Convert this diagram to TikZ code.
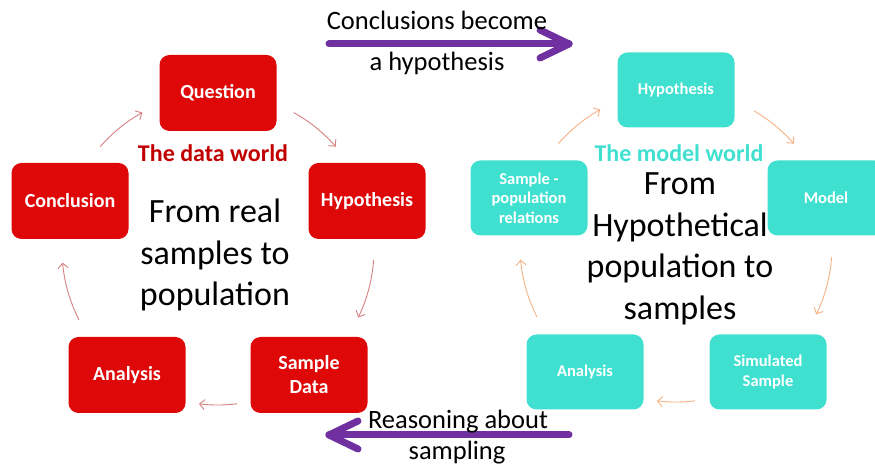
\documentclass[tikz,border=0pt]{standalone}
\usepackage{fontspec}
\setmainfont{Carlito}
\usetikzlibrary{arrows.meta,calc}
\definecolor{boxred}{RGB}{222,8,8}
\definecolor{darkred}{RGB}{192,0,0}
\definecolor{turq}{RGB}{64,224,208}
\definecolor{pinkarrow}{RGB}{214,128,128}
\definecolor{orangearrow}{RGB}{244,177,131}
\definecolor{purplearrow}{RGB}{112,48,160}
\begin{document}
\begin{tikzpicture}[x=1pt,y=1pt,
  redbox/.style={fill=boxred, rounded corners=10pt, minimum width=117pt, minimum height=76pt, text=white, font=\bfseries\fontsize{20}{24}\selectfont, align=center, inner sep=0pt},
  tealbox/.style={fill=turq, rounded corners=10pt, minimum width=117pt, minimum height=75pt, text=white, font=\bfseries\fontsize{16.5}{19.5}\selectfont, align=center, inner sep=0pt},
  worldlabel/.style={font=\bfseries\fontsize{24}{28}\selectfont, inner sep=0pt},
  bigtext/.style={font=\fontsize{34}{41.5}\selectfont, align=center, inner sep=0pt, text=black},
  arrowlabel/.style={font=\fontsize{26.5}{30}\selectfont, inner sep=0pt, text=black},
  cyclearrow/.style={line width=0.9pt, -{Straight Barb[length=5pt,width=10pt]}},
  bigarrow/.style={line width=7pt, draw=purplearrow, line cap=round, line join=round}
]
\useasboundingbox (0,0) rectangle (875,468);
\clip (0,0) rectangle (875,468);

% ---------- left cycle: the data world ----------
\node[redbox] (question) at (218,375) {Question};
\node[redbox] (hypL) at (367,267) {Hypothesis};
\node[redbox] (sampledata) at (309,93) {Sample\\Data};
\node[redbox] (analysisL) at (127,93) {Analysis};
\node[redbox] (conclusion) at (70,267) {Conclusion};
\node[worldlabel, text=darkred] (dataworld) at (213,315) {The data world};
\node[bigtext] (realtext) at (215,213) {From real\\samples to\\population};

\coordinate (LC) at (218,219);
\coordinate (l1) at ($(LC)+(61:156)$);
\coordinate (l2) at ($(LC)+(-4:156)$);
\coordinate (l3) at ($(LC)+(-83:156)$);
\coordinate (l4) at ($(LC)+(207:156)$);
\coordinate (l5) at ($(LC)+(139:156)$);
\draw[cyclearrow, pinkarrow] (l1) arc[start angle=61, end angle=41, radius=156];
\draw[cyclearrow, pinkarrow] (l2) arc[start angle=-4, end angle=-26, radius=156];
\draw[cyclearrow, pinkarrow] (l3) arc[start angle=-83, end angle=-97, radius=156];
\draw[cyclearrow, pinkarrow] (l4) arc[start angle=207, end angle=185, radius=156];
\draw[cyclearrow, pinkarrow] (l5) arc[start angle=139, end angle=119, radius=156];

% ---------- right cycle: the model world ----------
\node[tealbox] (hypR) at (676,378) {Hypothesis};
\node[tealbox] (model) at (826,270) {Model};
\node[tealbox] (simsample) at (768,96) {Simulated\\Sample};
\node[tealbox] (analysisR) at (585,96) {Analysis};
\node[tealbox] (samplepop) at (529,270) {Sample -\\population\\relations};
\node[worldlabel, text=turq] (modelworld) at (679,315) {The model world};
\node[bigtext] (hyptext) at (680,219) {From\\Hypothetical\\population to\\samples};

\coordinate (RC) at (676,222);
\coordinate (r1) at ($(RC)+(60:156)$);
\coordinate (r2) at ($(RC)+(-4:156)$);
\coordinate (r3) at ($(RC)+(-83:156)$);
\coordinate (r4) at ($(RC)+(207:156)$);
\coordinate (r5) at ($(RC)+(139:156)$);
\draw[cyclearrow, orangearrow] (r1) arc[start angle=60, end angle=41, radius=156];
\draw[cyclearrow, orangearrow] (r2) arc[start angle=-4, end angle=-26, radius=156];
\draw[cyclearrow, orangearrow] (r3) arc[start angle=-83, end angle=-97, radius=156];
\draw[cyclearrow, orangearrow] (r4) arc[start angle=207, end angle=185, radius=156];
\draw[cyclearrow, orangearrow] (r5) arc[start angle=139, end angle=119, radius=156];

% ---------- purple arrows ----------
\coordinate (topstart) at (329,424);
\coordinate (topend) at (569,424);
\draw[bigarrow] (topstart) -- (topend);
\draw[bigarrow] ($(topend)+(-29,14)$) -- (topend) -- ($(topend)+(-29,-14)$);
\node[arrowlabel] (concl) at (437,448) {Conclusions become};
\node[arrowlabel] (ahyp) at (437,405) {a hypothesis};

\coordinate (botstart) at (569,33);
\coordinate (botend) at (329,33);
\draw[bigarrow] (botstart) -- (botend);
\draw[bigarrow] ($(botend)+(29,14)$) -- (botend) -- ($(botend)+(29,-14)$);
\node[arrowlabel] (reason) at (458,46) {Reasoning about};
\node[arrowlabel] (sampling) at (457,15) {sampling};
\end{tikzpicture}
\end{document}
